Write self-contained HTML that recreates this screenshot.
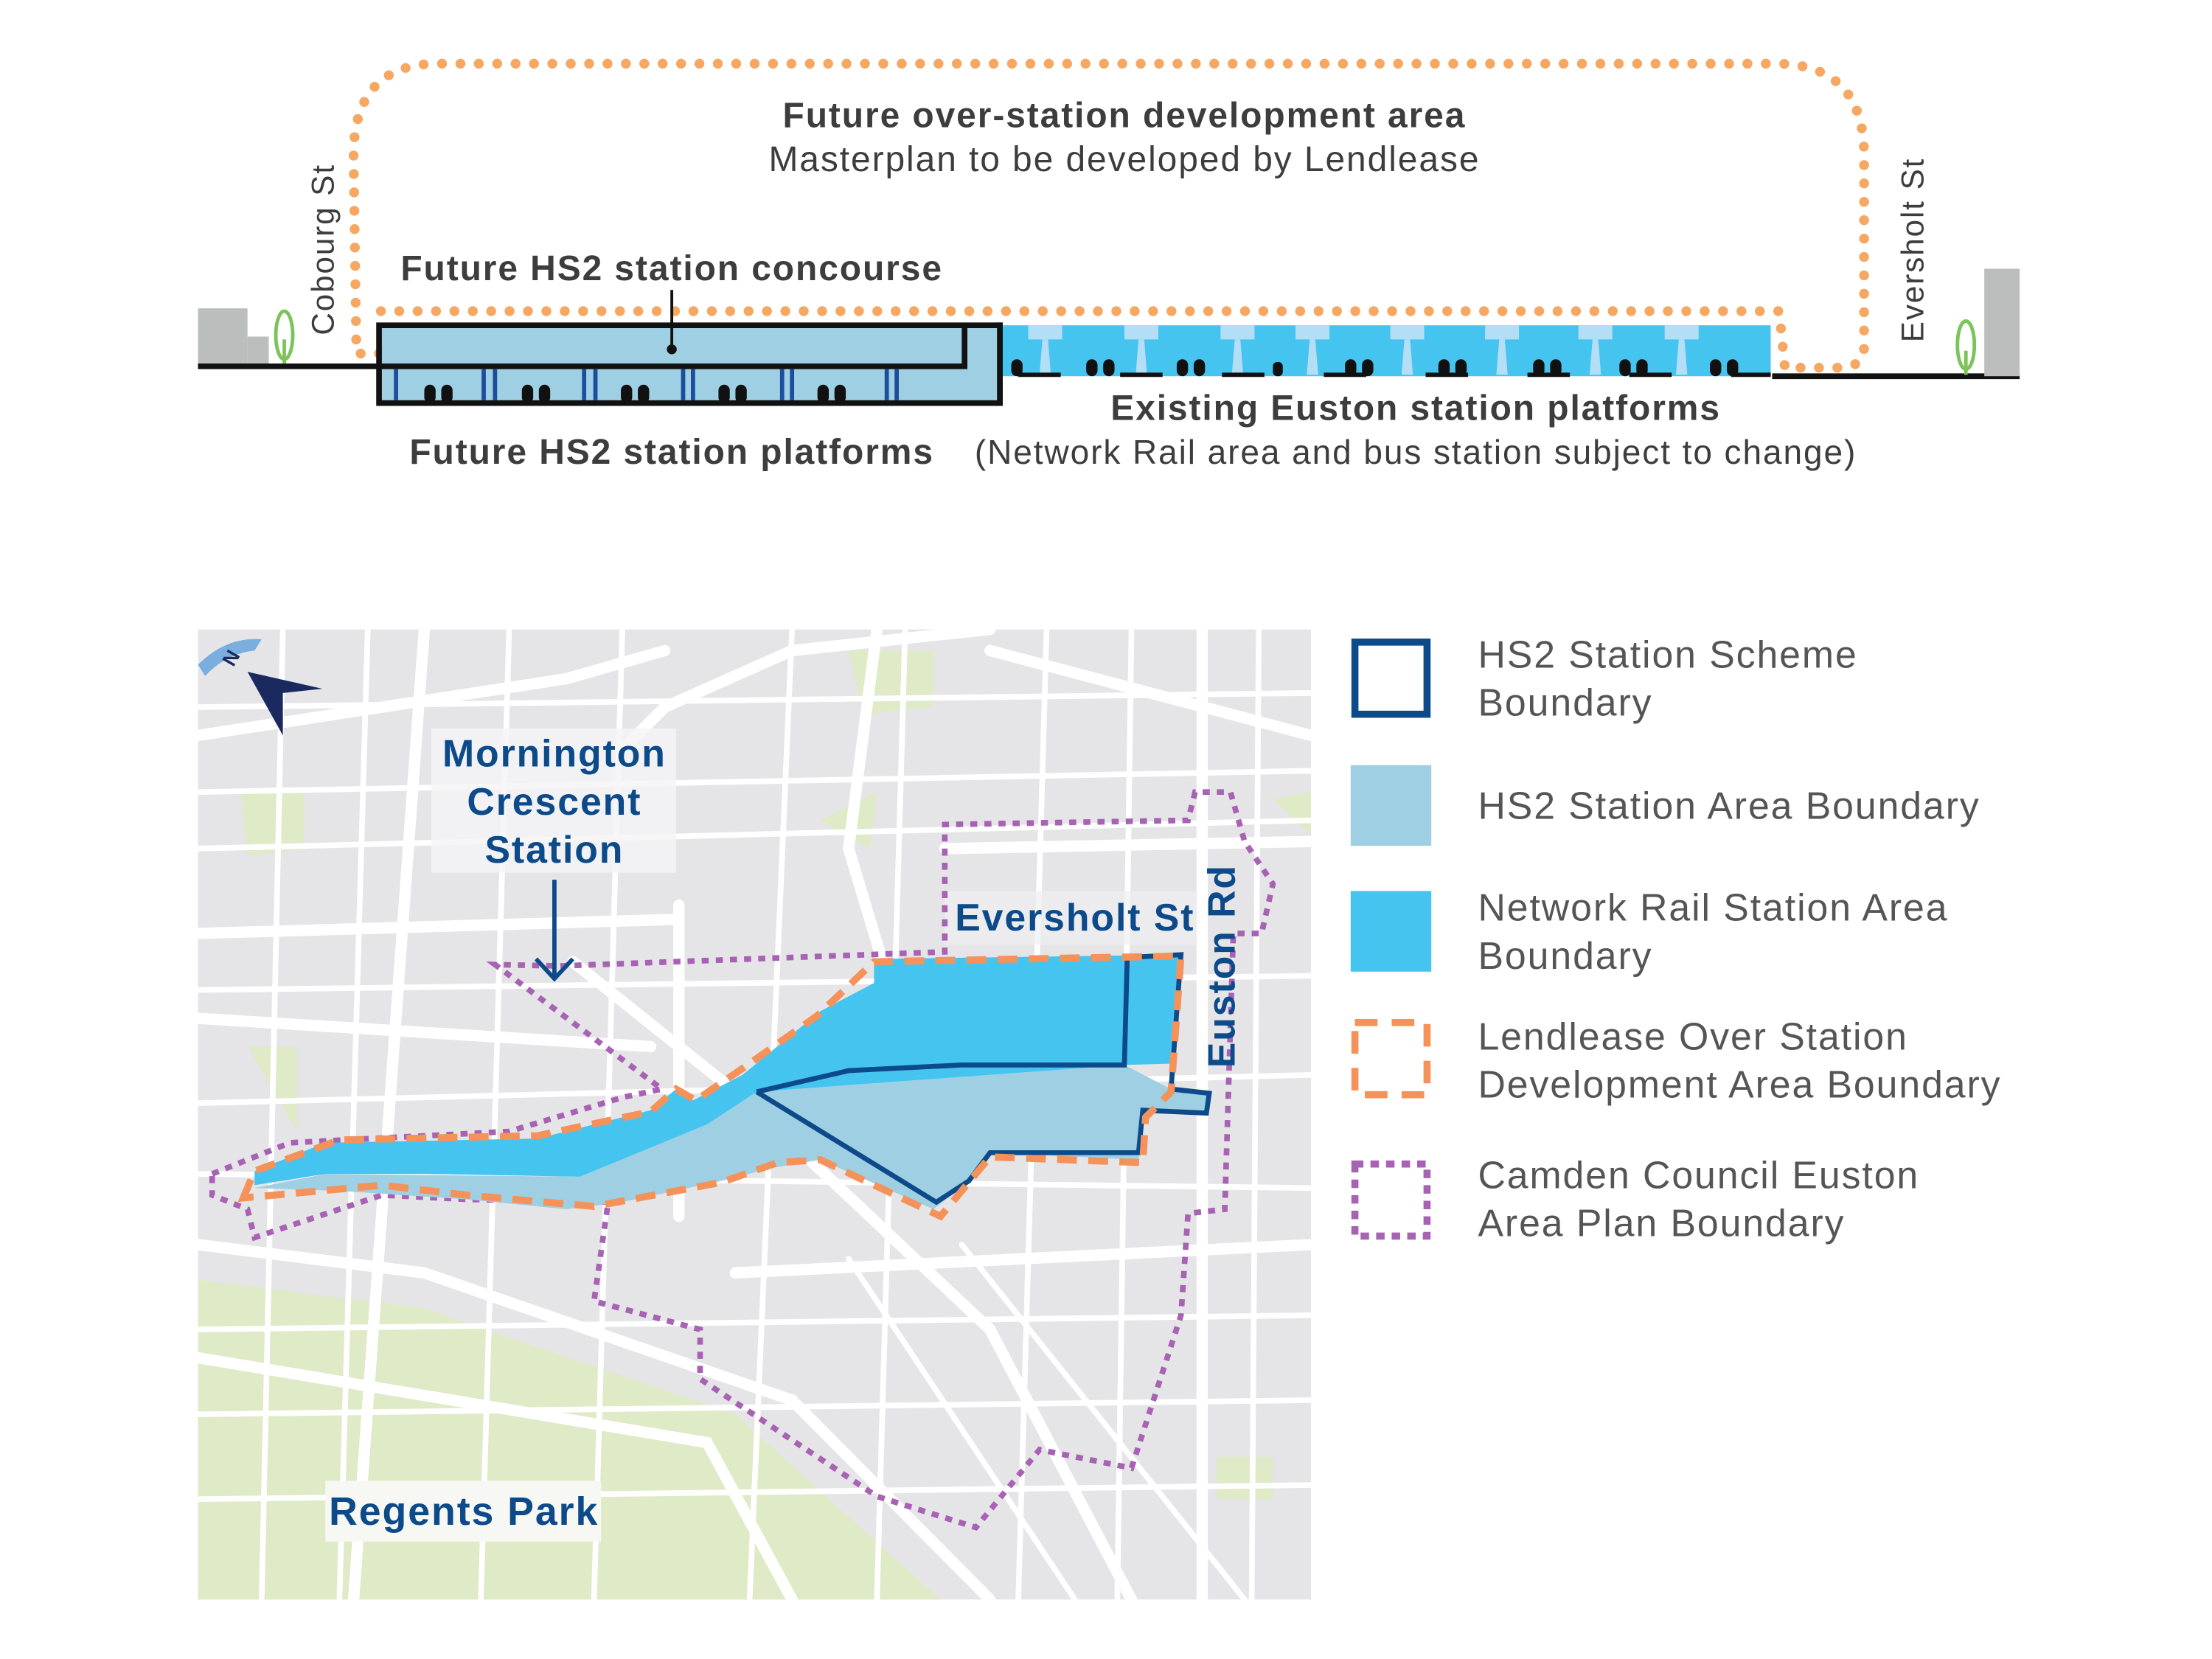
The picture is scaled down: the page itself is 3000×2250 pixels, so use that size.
<!DOCTYPE html>
<html><head><meta charset="utf-8"><style>
html,body{margin:0;padding:0;background:#fff;}
svg{display:block;}
text{font-family:"Liberation Sans","DejaVu Sans",sans-serif;letter-spacing:1px;}
</style></head><body>
<svg width="3000" height="2250" viewBox="0 0 1564 1173" xmlns="http://www.w3.org/2000/svg">
<rect width="1564" height="1173" fill="#fff"/>
<!-- TOP SECTION -->
<path d="M268,250 L252,250 L250,110 Q250,45 310,45 L1255,45 Q1318,45 1318,110 L1318,245 Q1318,260 1300,260 L1262,260 L1258,220 L268,220" fill="none" stroke="#f6a862" stroke-width="7" stroke-dasharray="0 13" stroke-linecap="round"/>
<rect x="140" y="218" width="35" height="40" fill="#bcbdbd"/>
<rect x="175" y="238" width="15" height="20" fill="#bcbdbd"/>
<ellipse cx="201" cy="237" rx="6" ry="17" fill="none" stroke="#7cc35a" stroke-width="2.5"/>
<line x1="201" y1="240" x2="201" y2="258" stroke="#7cc35a" stroke-width="2.5"/>
<line x1="140" y1="259" x2="270" y2="259" stroke="#111" stroke-width="4"/>
<rect x="268" y="230" width="439" height="55" fill="#9fcfe3" stroke="#111" stroke-width="4"/>
<polyline points="268,259 682,259 682,230" fill="none" stroke="#111" stroke-width="4"/>
<g stroke="#1c4e9c" stroke-width="3">
<line x1="280" y1="261" x2="280" y2="283"/><line x1="342" y1="261" x2="342" y2="283"/><line x1="350" y1="261" x2="350" y2="283"/>
<line x1="413" y1="261" x2="413" y2="283"/><line x1="421" y1="261" x2="421" y2="283"/><line x1="483" y1="261" x2="483" y2="283"/><line x1="490" y1="261" x2="490" y2="283"/>
<line x1="553" y1="261" x2="553" y2="283"/><line x1="560" y1="261" x2="560" y2="283"/><line x1="627" y1="261" x2="627" y2="283"/><line x1="634" y1="261" x2="634" y2="283"/>
</g>
<line x1="475" y1="205" x2="475" y2="245" stroke="#111" stroke-width="2"/><circle cx="475" cy="247" r="3.5" fill="#111"/>
<g fill="#111">
<rect x="300" y="272" width="8" height="13" rx="4"/><rect x="312" y="272" width="8" height="13" rx="4"/>
<rect x="369" y="272" width="8" height="13" rx="4"/><rect x="381" y="272" width="8" height="13" rx="4"/>
<rect x="439" y="272" width="8" height="13" rx="4"/><rect x="451" y="272" width="8" height="13" rx="4"/>
<rect x="508" y="272" width="8" height="13" rx="4"/><rect x="520" y="272" width="8" height="13" rx="4"/>
<rect x="578" y="272" width="8" height="13" rx="4"/><rect x="590" y="272" width="8" height="13" rx="4"/>
</g>
<rect x="707" y="230" width="545" height="36" fill="#45c4f0"/>
<line x1="707" y1="228" x2="707" y2="287" stroke="#111" stroke-width="4"/>
<g fill="#b4def5">
<rect x="727" y="230" width="24" height="10"/><path d="M737,240h4l2,25h-8z"/>
<rect x="795" y="230" width="24" height="10"/><path d="M805,240h4l2,25h-8z"/>
<rect x="863" y="230" width="24" height="10"/><path d="M873,240h4l2,25h-8z"/>
<rect x="916" y="230" width="24" height="10"/><path d="M926,240h4l2,25h-8z"/>
<rect x="983" y="230" width="24" height="10"/><path d="M993,240h4l2,25h-8z"/>
<rect x="1050" y="230" width="24" height="10"/><path d="M1060,240h4l2,25h-8z"/>
<rect x="1116" y="230" width="24" height="10"/><path d="M1126,240h4l2,25h-8z"/>
<rect x="1177" y="230" width="24" height="10"/><path d="M1187,240h4l2,25h-8z"/>
</g>
<g fill="#111">
<rect x="715" y="254" width="8" height="12" rx="4"/>
<rect x="768" y="254" width="8" height="12" rx="4"/><rect x="780" y="254" width="8" height="12" rx="4"/>
<rect x="832" y="254" width="8" height="12" rx="4"/><rect x="844" y="254" width="8" height="12" rx="4"/>
<rect x="900" y="256" width="7" height="10" rx="3"/>
<rect x="951" y="254" width="8" height="12" rx="4"/><rect x="963" y="254" width="8" height="12" rx="4"/>
<rect x="1017" y="254" width="8" height="12" rx="4"/><rect x="1029" y="254" width="8" height="12" rx="4"/>
<rect x="1084" y="254" width="8" height="12" rx="4"/><rect x="1096" y="254" width="8" height="12" rx="4"/>
<rect x="1145" y="254" width="8" height="12" rx="4"/><rect x="1157" y="254" width="8" height="12" rx="4"/>
<rect x="1209" y="254" width="8" height="12" rx="4"/><rect x="1221" y="254" width="8" height="12" rx="4"/>
</g>
<line x1="708" y1="265" x2="1252" y2="265" stroke="#111" stroke-width="3" stroke-dasharray="0 12 30 30"/>
<line x1="1253" y1="266" x2="1428" y2="266" stroke="#111" stroke-width="4"/>
<rect x="1403" y="190" width="25" height="76" fill="#bcbdbd"/>
<ellipse cx="1390" cy="244" rx="6" ry="17" fill="none" stroke="#7cc35a" stroke-width="2.5"/>
<line x1="1390" y1="248" x2="1390" y2="265" stroke="#7cc35a" stroke-width="2.5"/>
<text x="795" y="90" font-size="25" font-weight="bold" fill="#3d3d3d" text-anchor="middle">Future over-station development area</text>
<text x="795" y="121" font-size="25" fill="#3d3d3d" text-anchor="middle">Masterplan to be developed by Lendlease</text>
<text x="475" y="198" font-size="25" font-weight="bold" fill="#3d3d3d" text-anchor="middle">Future HS2 station concourse</text>
<text x="475" y="328" font-size="25" font-weight="bold" fill="#3d3d3d" text-anchor="middle">Future HS2 station platforms</text>
<text x="1001" y="297" font-size="25" font-weight="bold" fill="#3d3d3d" text-anchor="middle">Existing Euston station platforms</text>
<text x="1001" y="328" font-size="24" fill="#3d3d3d" text-anchor="middle">(Network Rail area and bus station subject to change)</text>
<text transform="translate(236,237) rotate(-90)" font-size="22" fill="#3d3d3d">Cobourg St</text>
<text transform="translate(1360,242) rotate(-90)" font-size="22" fill="#3d3d3d">Eversholt St</text>

<!-- MAP -->
<clipPath id="mc"><rect x="140" y="445" width="787" height="686"/></clipPath>
<g clip-path="url(#mc)">
<rect x="140" y="445" width="787" height="686" fill="#e5e5e8"/>
<path d="M140,905 L300,925 L520,1000 L665,1131 L140,1131Z" fill="#dfeac7"/>
<path d="M600,460 L660,460 L660,500 L610,505Z M170,560 L215,560 L215,600 L175,605Z M175,740 L210,740 L210,800Z M860,1030 L900,1030 L900,1060 L860,1060Z M580,580 L620,560 L615,600Z M900,565 L927,560 L927,590Z" fill="#dfeac7"/>
<g stroke="#fff" fill="none" stroke-linecap="round">
<g stroke-width="8">
<path d="M140,520 L400,480 L470,460"/><path d="M440,530 L470,500 L560,460 L700,445"/>
<path d="M140,660 L480,650"/><path d="M140,720 L460,740"/><path d="M140,880 L300,900 L560,990 L700,1131"/>
<path d="M405,680 L530,780 L700,940 L800,1131"/><path d="M850,445 L850,1131"/><path d="M140,960 L500,1020 L560,1131"/>
<path d="M620,445 L600,600 L660,800"/><path d="M668,600 L927,595"/><path d="M300,445 L250,1131"/>
<path d="M480,640 L480,860"/><path d="M700,460 L927,520"/><path d="M520,900 L927,880"/>
</g>
<g stroke-width="4">
<path d="M200,445 L185,1131"/><path d="M360,445 L340,1131"/><path d="M560,445 L530,1131"/><path d="M740,445 L720,1131"/><path d="M800,445 L790,1131"/><path d="M890,445 L885,1131"/>
<path d="M140,600 L927,580"/><path d="M140,780 L927,760"/><path d="M140,940 L927,930"/><path d="M140,1000 L927,990"/><path d="M140,1060 L927,1050"/><path d="M140,500 L927,490"/><path d="M140,560 L927,545"/><path d="M140,700 L927,690"/><path d="M140,830 L927,840"/>
<path d="M440,445 L420,1131"/><path d="M640,445 L620,1131"/><path d="M260,445 L240,1131"/><path d="M680,880 L880,1131"/><path d="M600,890 L760,1131"/>
</g>
</g>
<rect x="305" y="515" width="173" height="102" fill="#f5f5f6" opacity="0.85"/>
<rect x="668" y="630" width="178" height="38" fill="#f0f0f2" opacity="0.7"/>
<path d="M150,830 L205,808 L360,800 L440,776 L468,770 L350,682 L395,683 L668,673 L668,583 L840,580 L845,560 L870,560 L880,595 L900,625 L892,660 L872,660 L866,855 L840,858 L835,930 L800,1038 L735,1025 L690,1080 L620,1058 L495,975 L495,940 L420,920 L430,850 L330,848 L270,845 L180,875 L175,855 L150,845Z" fill="none" stroke="#a862b3" stroke-width="4" stroke-dasharray="5 5"/>
<path d="M180,840 L240,842 L330,848 L400,855 L440,850 L510,835 L545,826 L580,820 L660,855 L685,835 L700,815 L805,820 L808,787 L852,787 L855,773 L828,770 L795,753 L535,772 L500,795 L410,832 L230,830 Z" fill="#9fcfe3"/>
<path d="M618,678 L835,675 L828,752 L795,753 L535,772 L500,795 L410,832 L300,830 L230,830 L180,838 L180,828 L230,808 L380,805 L460,785 L478,770 L490,778 L525,760 L580,715 L618,695Z" fill="#45c4f0"/>
<path d="M535,772 L600,757 L680,753 L795,753 L797,677 M535,772 L662,850 L685,835 L700,815 L805,815 L808,785 L853,787 L855,773 L828,770 L835,675 L797,677" fill="none" stroke="#0d4a8a" stroke-width="3.5"/>
<path d="M172,847 L180,828 L240,806 L380,803 L460,786 L478,770 L492,778 L530,752 L578,718 L618,680 L835,676 L828,772 L810,790 L808,822 L700,818 L665,860 L580,820 L550,822 L510,836 L420,853 L330,845 L270,838 L172,847Z" fill="none" stroke="#f4925a" stroke-width="5" stroke-dasharray="14 8"/>
<path d="M140,470 Q160,450 185,452 L180,460 Q160,462 145,478Z" fill="#7aaedf"/>
<path d="M175,475 L228,487 L200,490 L200,520Z" fill="#1b2a5e"/>
<text transform="translate(165,472) rotate(-60)" font-size="14" font-weight="bold" fill="#1b2a5e">N</text>
<text x="392" y="542" font-size="27" font-weight="bold" fill="#0d4a8a" text-anchor="middle">Mornington</text>
<text x="392" y="576" font-size="27" font-weight="bold" fill="#0d4a8a" text-anchor="middle">Crescent</text>
<text x="392" y="610" font-size="27" font-weight="bold" fill="#0d4a8a" text-anchor="middle">Station</text>
<line x1="392" y1="622" x2="392" y2="690" stroke="#0d4a8a" stroke-width="3"/>
<polyline points="379,678 392,692 405,678" fill="none" stroke="#0d4a8a" stroke-width="3"/>
<text x="760" y="658" font-size="27" font-weight="bold" fill="#0d4a8a" text-anchor="middle">Eversholt St</text>
<text transform="translate(873,755) rotate(-90)" font-size="27" font-weight="bold" fill="#0d4a8a">Euston Rd</text>
<rect x="230" y="1047" width="195" height="43" fill="#f7f7f4"/>
<text x="328" y="1078" font-size="28" font-weight="bold" fill="#0d4a8a" text-anchor="middle">Regents Park</text>
</g>
<!-- LEGEND -->
<rect x="958" y="454" width="51" height="51" fill="none" stroke="#0d4a8a" stroke-width="5"/>
<rect x="955" y="541" width="57" height="57" fill="#9fcfe3"/>
<rect x="955" y="630" width="57" height="57" fill="#45c4f0"/>
<rect x="958" y="723" width="51" height="51" fill="none" stroke="#f4925a" stroke-width="5" stroke-dasharray="16 10"/>
<rect x="958" y="823" width="51" height="51" fill="none" stroke="#a862b3" stroke-width="5" stroke-dasharray="6 5"/>
<g font-size="27" fill="#555">
<text x="1045" y="472">HS2 Station Scheme</text><text x="1045" y="506">Boundary</text>
<text x="1045" y="579">HS2 Station Area Boundary</text>
<text x="1045" y="651">Network Rail Station Area</text><text x="1045" y="685">Boundary</text>
<text x="1045" y="742">Lendlease Over Station</text><text x="1045" y="776">Development Area Boundary</text>
<text x="1045" y="840">Camden Council Euston</text><text x="1045" y="874">Area Plan Boundary</text>
</g>
</svg>
</body></html>
